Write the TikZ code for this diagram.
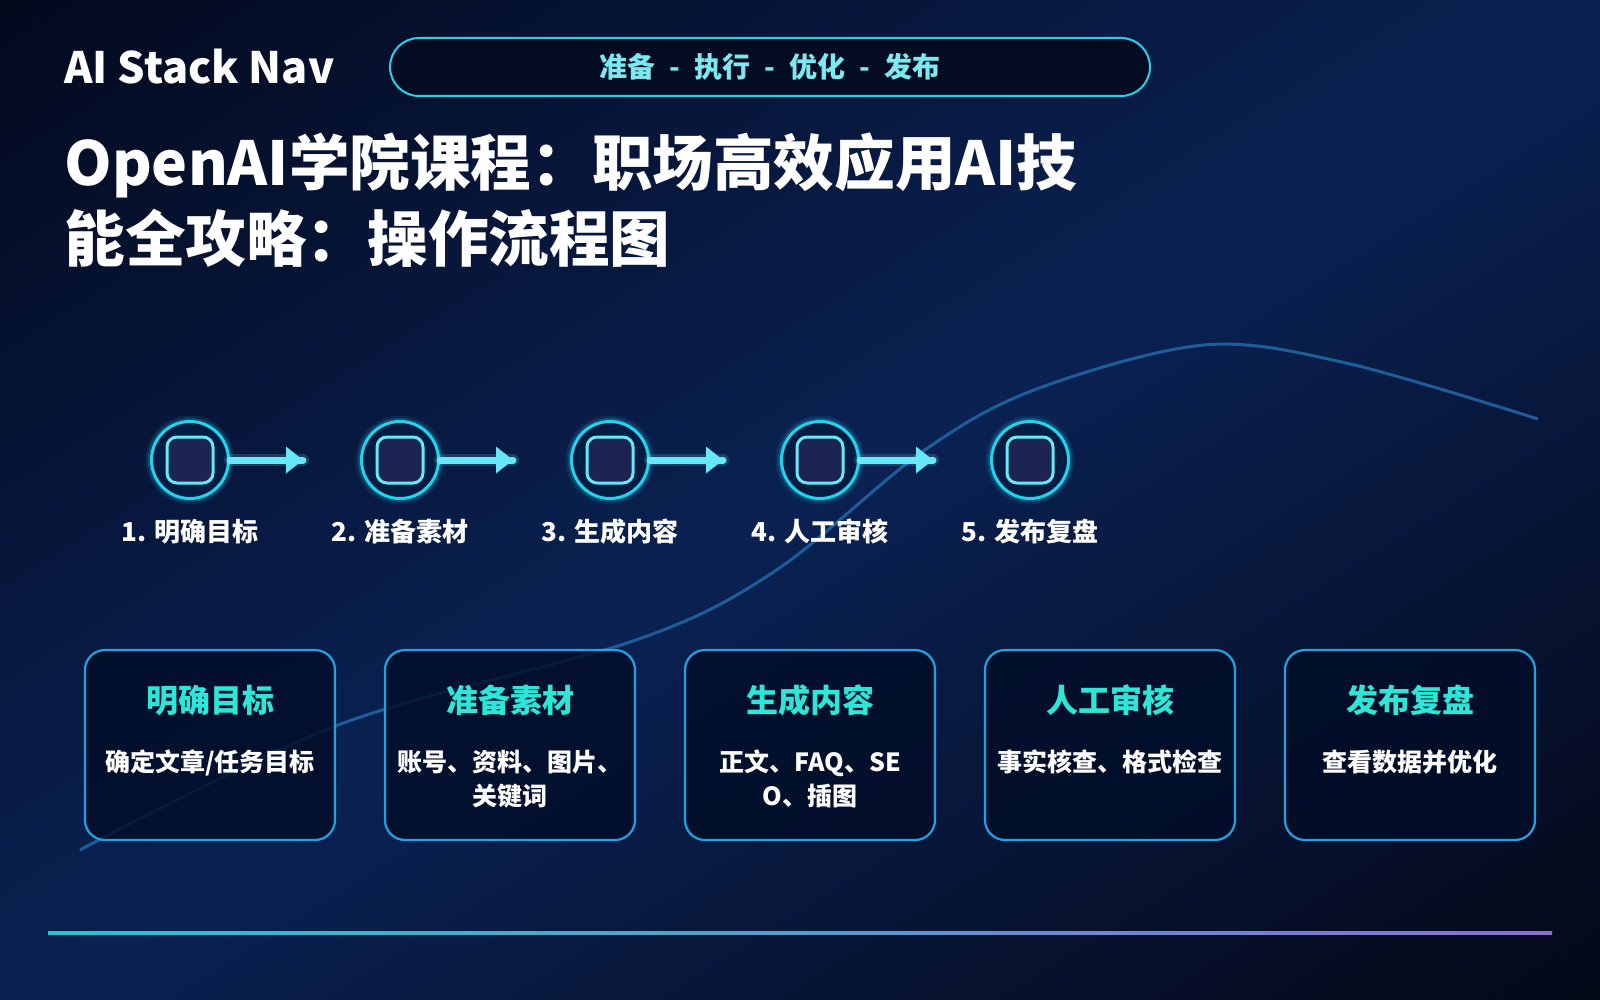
\documentclass[tikz,border=0pt]{standalone}
\usepackage{fontspec}
\setmainfont{Noto Sans CJK SC}
\usetikzlibrary{calc}
\definecolor{bgA}{HTML}{030A1E}
\definecolor{bgB}{HTML}{0A2152}
\definecolor{bgC}{HTML}{040816}
\definecolor{ringc}{HTML}{22D3EE}
\definecolor{ringfill}{HTML}{041B42}
\definecolor{sqline}{HTML}{67E8F9}
\definecolor{sqfill}{HTML}{1B2452}
\definecolor{arrowc}{HTML}{67E8F9}
\definecolor{pillline}{HTML}{22D3EE}
\definecolor{pillfill}{HTML}{040C22}
\definecolor{pilltext}{HTML}{7EE8F0}
\definecolor{cardline}{HTML}{1EA3E4}
\definecolor{cardfill}{HTML}{020E28}
\definecolor{cardtitlec}{HTML}{2EE6D8}
\definecolor{curvec}{HTML}{1C5D9A}
\definecolor{lineL}{HTML}{22C8D0}
\definecolor{lineR}{HTML}{8C6ED2}
\tikzset{
  ring/.style={circle, minimum size=38.5pt, inner sep=0pt, draw=ringc, line width=1.5pt, fill=ringfill},
  sqbox/.style={rectangle, rounded corners=5pt, minimum size=23pt, inner sep=0pt, draw=sqline, line width=1.5pt, fill=sqfill},
  steplab/.style={text=white, font=\fontsize{13pt}{15pt}\selectfont\bfseries, inner sep=0pt},
  arrowline/.style={draw=arrowc, line width=3.5pt, line cap=round},
  arrowglow/.style={draw=arrowc, line width=6pt, line cap=round, opacity=0.18},
  cardbox/.style={rectangle, rounded corners=10pt, minimum width=125pt, minimum height=95pt, inner sep=0pt, draw=cardline, line width=1.1pt, fill=cardfill, fill opacity=0.82},
  cardtitle/.style={text=cardtitlec, font=\fontsize{16pt}{19pt}\selectfont\bfseries, inner sep=0pt},
  cardbody/.style={text=white, font=\fontsize{12.5pt}{17pt}\selectfont\bfseries, inner sep=0pt},
  curveline/.style={draw=curvec, line width=1.5pt},
}
\begin{document}
\begin{tikzpicture}[x=0.5pt,y=-0.5pt]
\useasboundingbox (0,0) rectangle (1600,1000);
% background: diagonal gradient dark -> blue -> dark
\begin{scope}
\clip (0,0) rectangle (1600,1000);
\fill[bgA] (0,0) rectangle (1600,1000);
\begin{scope}[shift={(800,500)}, rotate=-58]
\foreach \t in {-850,-830,...,850}{
  \pgfmathsetmacro{\p}{\t<0 ? (\t+850)/8.5 : \t/8.5}
  \ifdim\t pt<0pt
    \colorlet{bgcur}{bgB!\p!bgA}
  \else
    \colorlet{bgcur}{bgC!\p!bgB}
  \fi
  \fill[bgcur] (\t,-1200) rectangle (1000,1200);
}
\end{scope}
\end{scope}
% decorative curve
\draw[curveline] plot[smooth, tension=0.55] coordinates {(80,850) (338,725) (636,640) (775,571) (922,452) (1034,390) (1204,345) (1346,363) (1538,419)};
% header
\node[text=white, font=\fontsize{21.6pt}{26pt}\selectfont\bfseries, inner sep=0pt, anchor=base west] (brand) at (64,84) {AI Stack Nav};
\node[rectangle, rounded corners=14.5pt, minimum width=380pt, minimum height=29pt, inner sep=0pt, draw=pillline, line width=1pt, fill=pillfill, text=pilltext, font=\fontsize{14pt}{16pt}\selectfont\bfseries] (pill) at (770,67) {准备\hspace{7pt}-\hspace{7pt}执行\hspace{7pt}-\hspace{7pt}优化\hspace{7pt}-\hspace{7pt}发布};
% title
\node[text=white, font=\fontsize{30.3pt}{36pt}\selectfont\bfseries, inner sep=0pt, anchor=base west] (title1) at (64,186) {OpenAI学院课程：职场高效应用AI技};
\node[text=white, font=\fontsize{30.3pt}{36pt}\selectfont\bfseries, inner sep=0pt, anchor=base west] (title2) at (64,262) {能全攻略：操作流程图};
% steps
\foreach \i/\lab in {1/明确目标,2/准备素材,3/生成内容,4/人工审核,5/发布复盘}{
  \pgfmathsetmacro{\cx}{190+210*(\i-1)}
  \draw[ringc, opacity=0.10, line width=6pt] (\cx,460) circle (38.5);
  \draw[ringc, opacity=0.20, line width=3.5pt] (\cx,460) circle (38.5);
  \node[ring] (s\i) at (\cx,460) {};
  \node[sqbox] (q\i) at (s\i) {};
  \node[steplab, anchor=base] (l\i) at (\cx,541) {\i. \lab};
}
\foreach \i in {1,...,4}{
  \pgfmathsetmacro{\ax}{190+210*(\i-1)+113}
  \coordinate (e\i) at (\ax,460);
  \draw[arrowglow] (s\i.east) -- (e\i);
  \draw[arrowline] (s\i.east) -- (e\i);
  \fill[arrowc] ($(e\i)+(-17,-13.5)$) -- (e\i) -- ($(e\i)+(-17,13.5)$) -- cycle;
}
% cards
\foreach \i/\t in {1/明确目标,2/准备素材,3/生成内容,4/人工审核,5/发布复盘}{
  \pgfmathsetmacro{\kx}{210+300*(\i-1)}
  \node[cardbox] (k\i) at (\kx,745) {};
  \node[cardtitle, anchor=base] (t\i) at (\kx,712) {\t};
}
\node[cardbody, anchor=base] (b1) at (210,771) {确定文章/任务目标};
\node[cardbody, anchor=base] (b2a) at (510,771) {账号、资料、图片、};
\node[cardbody, anchor=base] (b2b) at (510,805) {关键词};
\node[cardbody, anchor=base] (b3a) at (810,771) {正文、FAQ、SE};
\node[cardbody, anchor=base] (b3b) at (810,805) {O、插图};
\node[cardbody, anchor=base] (b4) at (1110,771) {事实核查、格式检查};
\node[cardbody, anchor=base] (b5) at (1410,771) {查看数据并优化};
% bottom rule
\shade[left color=lineL, right color=lineR] (48,931.5) rectangle (1552,934.5);
\end{tikzpicture}
\end{document}
